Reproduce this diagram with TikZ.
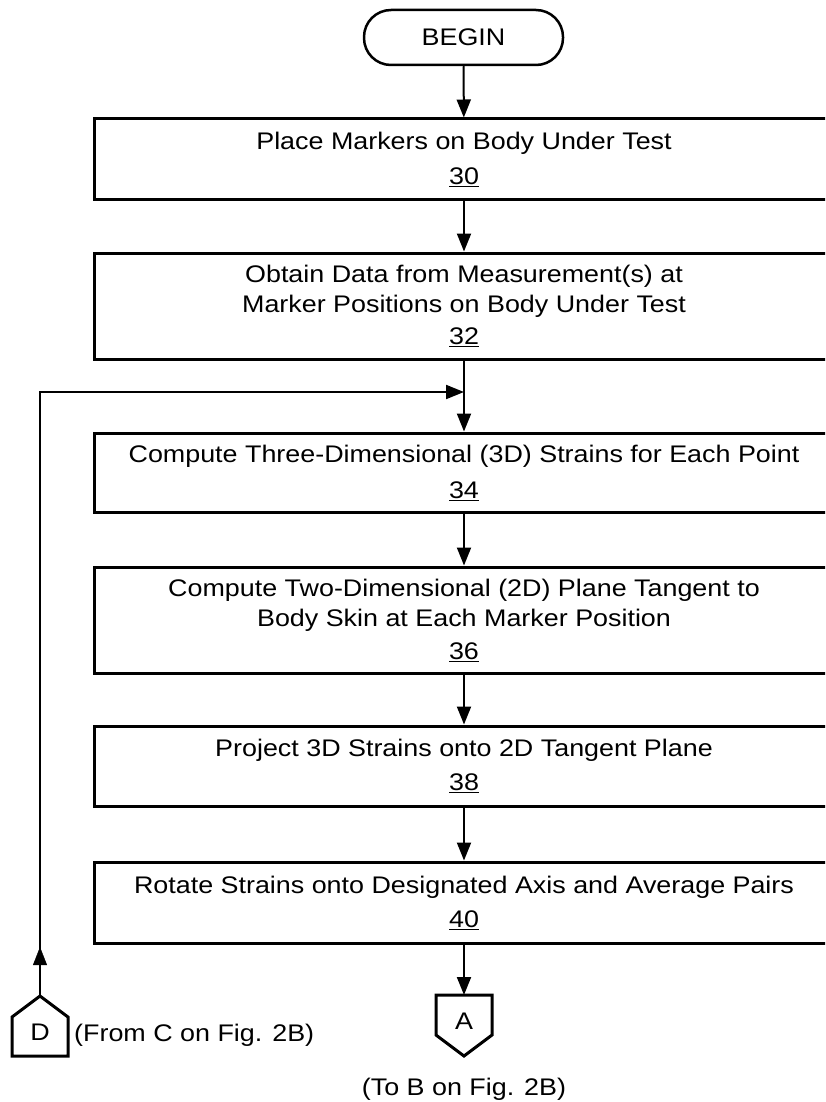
\documentclass[tikz,border=0pt]{standalone}
\usepackage{fontspec}
\setmainfont{Liberation Sans}[FakeStretch=1.12]
\usetikzlibrary{arrows.meta,calc,decorations.markings}

\newcommand\chartfont{\fontsize{24}{30}\selectfont}

\tikzset{
  flowtip/.tip={Triangle[length=18pt,width=14pt]},
  stepbox/.style={draw, line width=3pt, minimum width=740pt, inner sep=0pt,
                  align=center, font=\chartfont},
  terminal/.style={draw, line width=2.5pt, rounded corners=27pt, minimum width=199pt,
                   minimum height=55pt, inner sep=0pt, font=\chartfont},
  tagtext/.style={inner sep=0pt, font=\chartfont},
  pentagon/.style={draw, line width=3pt, line join=miter},
  conn/.style={line width=2pt, -{flowtip}},
}

\begin{document}
\begin{tikzpicture}[x=1pt, y=-1pt]
  \useasboundingbox (0,0) rectangle (825,1102);
  \clip (0,0) rectangle (825,1102);

  % start terminal
  \node[terminal] (begin) at (463.5,37.5) {BEGIN};

  % process steps
  \node[stepbox, minimum height=80pt]  (s30) at (464,159)
    {Place Markers on Body Under Test\\[5pt]\underline{30}};
  \node[stepbox, minimum height=106pt] (s32) at (464,306)
    {Obtain Data from Measurement(s) at\\Marker Positions on Body Under Test\\[2pt]\underline{32}};
  \node[stepbox, minimum height=79pt]  (s34) at (464,472.5)
    {Compute Three-Dimensional (3D) Strains for Each Point\\[6pt]\underline{34}};
  \node[stepbox, minimum height=106pt] (s36) at (464,620)
    {Compute Two-Dimensional (2D) Plane Tangent to\\Body Skin at Each Marker Position\\[3pt]\underline{36}};
  \node[stepbox, minimum height=80pt]  (s38) at (464,766)
    {Project 3D Strains onto 2D Tangent Plane\\[4pt]\underline{38}};
  \node[stepbox, minimum height=81pt]  (s40) at (464,902.5)
    {Rotate Strains onto Designated Axis and Average Pairs\\[4pt]\underline{40}};

  % off-page connector D (incoming)
  \node[tagtext] (D) at (40,1032) {D};
  \coordinate (Dtop) at ($(D)+(0,-36)$);
  \draw[pentagon] (Dtop) -- ($(D)+(28,-15)$) -- ($(D)+(28,24)$)
                  -- ($(D)+(-28,24)$) -- ($(D)+(-28,-15)$) -- cycle;
  \node[tagtext, anchor=west] (fromC) at (74,1035) {(From C on Fig. 2B)};

  % off-page connector A (outgoing)
  \node[tagtext] (A) at (464,1021) {A};
  \coordinate (Atop) at ($(A)+(0,-26)$);
  \draw[pentagon] ($(A)+(-28,-26)$) -- ($(A)+(28,-26)$) -- ($(A)+(28,14)$)
                  -- ($(A)+(0,35)$) -- ($(A)+(-28,14)$) -- cycle;
  \node[tagtext] (toB) at (464,1089) {(To B on Fig. 2B)};

  % flow connectors
  \coordinate (join) at (464,392);
  \draw[conn] (begin) -- (s30);
  \draw[conn] (s30) -- (s32);
  \draw[conn] (s32) -- (s34);
  \draw[conn] (s34) -- (s36);
  \draw[conn] (s36) -- (s38);
  \draw[conn] (s38) -- (s40);
  \draw[conn] (s40) -- (Atop);

  % return path from D into the main flow
  \draw[conn] (Dtop) |- (join);
  \path[postaction={decorate},
        decoration={markings, mark=at position 49pt with {\arrow{flowtip}}}]
       (Dtop) |- (join);
\end{tikzpicture}
\end{document}
